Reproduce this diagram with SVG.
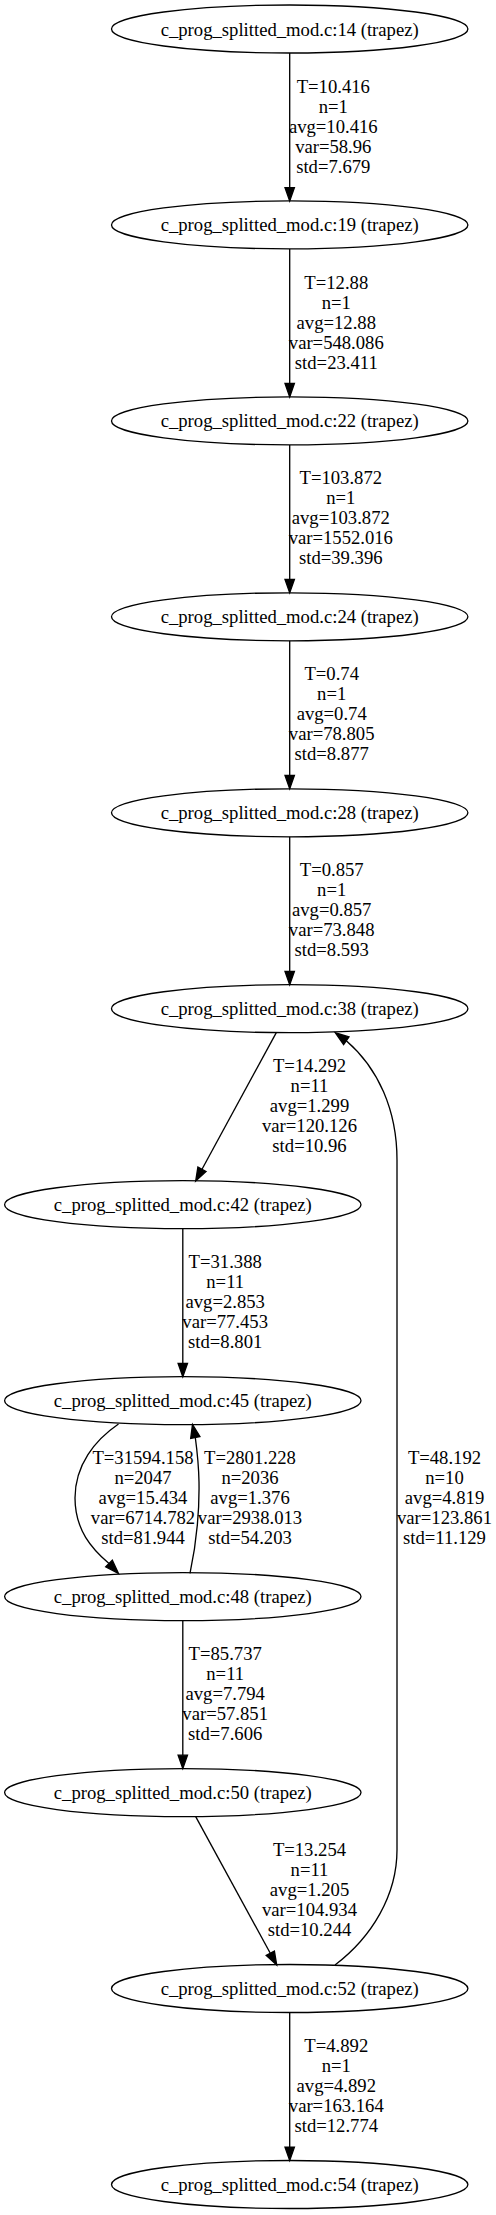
<svg xmlns="http://www.w3.org/2000/svg" width="496" height="2215" viewBox="0 0 496 2215">
<style>
.n ellipse{fill:none;stroke:#000;stroke-width:1.33}
.n text{font-family:"Liberation Serif","Times New Roman",serif;font-size:18.67px;text-anchor:middle;fill:#000}
#edges path{fill:none;stroke:#000;stroke-width:1.33}
#edges polygon{fill:#000;stroke:#000;stroke-width:1.33}
#edges text{font-family:"Liberation Serif","Times New Roman",serif;font-size:18.67px;text-anchor:middle;fill:#000}
</style>
<rect width="496" height="2215" fill="#fff"/>
<g id="edges">
  <!-- 14 -> 19 -->
  <g id="e1">
    <path d="M289.7,53 L289.7,187.6"/>
    <polygon points="285,187.6 294.4,187.6 289.7,201"/>
    <text x="333.3" y="92.5">T=10.416</text><text x="333.3" y="112.5">n=1</text><text x="333.3" y="132.5">avg=10.416</text><text x="333.3" y="152.5">var=58.96</text><text x="333.3" y="172.5">std=7.679</text>
  </g>
  <!-- 19 -> 22 -->
  <g id="e2">
    <path d="M289.7,249 L289.7,383.5"/>
    <polygon points="285,383.5 294.4,383.5 289.7,396.9"/>
    <text x="336.3" y="288.5">T=12.88</text><text x="336.3" y="308.5">n=1</text><text x="336.3" y="328.5">avg=12.88</text><text x="336.3" y="348.5">var=548.086</text><text x="336.3" y="368.5">std=23.411</text>
  </g>
  <!-- 22 -> 24 -->
  <g id="e3">
    <path d="M289.7,444.9 L289.7,579.5"/>
    <polygon points="285,579.5 294.4,579.5 289.7,592.8"/>
    <text x="340.8" y="484.4">T=103.872</text><text x="340.8" y="504.4">n=1</text><text x="340.8" y="524.4">avg=103.872</text><text x="340.8" y="544.4">var=1552.016</text><text x="340.8" y="564.4">std=39.396</text>
  </g>
  <!-- 24 -> 28 -->
  <g id="e4">
    <path d="M289.7,640.8 L289.7,775.4"/>
    <polygon points="285,775.4 294.4,775.4 289.7,788.8"/>
    <text x="331.7" y="680.3">T=0.74</text><text x="331.7" y="700.3">n=1</text><text x="331.7" y="720.3">avg=0.74</text><text x="331.7" y="740.3">var=78.805</text><text x="331.7" y="760.3">std=8.877</text>
  </g>
  <!-- 28 -> 38 -->
  <g id="e5">
    <path d="M289.7,836.8 L289.7,971.4"/>
    <polygon points="285,971.4 294.4,971.4 289.7,984.7"/>
    <text x="331.7" y="876.3">T=0.857</text><text x="331.7" y="896.3">n=1</text><text x="331.7" y="916.3">avg=0.857</text><text x="331.7" y="936.3">var=73.848</text><text x="331.7" y="956.3">std=8.593</text>
  </g>
  <!-- 38 -> 42 -->
  <g id="e6">
    <path d="M276.3,1032.6 L202,1169.3"/>
    <polygon points="206.1,1171.5 197.9,1167.1 195.7,1181"/>
    <text x="309.5" y="1072.2">T=14.292</text><text x="309.5" y="1092.2">n=11</text><text x="309.5" y="1112.2">avg=1.299</text><text x="309.5" y="1132.2">var=120.126</text><text x="309.5" y="1152.2">std=10.96</text>
  </g>
  <!-- 42 -> 45 -->
  <g id="e7">
    <path d="M182.8,1228.7 L182.8,1363.3"/>
    <polygon points="178.1,1363.3 187.5,1363.3 182.8,1376.7"/>
    <text x="225.2" y="1268.2">T=31.388</text><text x="225.2" y="1288.2">n=11</text><text x="225.2" y="1308.2">avg=2.853</text><text x="225.2" y="1328.2">var=77.453</text><text x="225.2" y="1348.2">std=8.801</text>
  </g>
  <!-- 45 -> 48 -->
  <g id="e8">
    <path d="M118.5,1424 C95,1440 75,1465 75,1498 C75,1530 92,1549 109,1563.5"/>
    <polygon points="112.3,1560.2 105.7,1566.8 118.5,1573.5"/>
    <text x="143" y="1464.2">T=31594.158</text><text x="143" y="1484.2">n=2047</text><text x="143" y="1504.2">avg=15.434</text><text x="143" y="1524.2">var=6714.782</text><text x="143" y="1544.2">std=81.944</text>
  </g>
  <!-- 48 -> 45 -->
  <g id="e9">
    <path d="M190,1573.3 C196,1545 199.5,1512 199,1482 C198.6,1462 197,1450 195.3,1437.5"/>
    <polygon points="199.9,1436.5 190.7,1438.5 192.5,1424.5"/>
    <text x="250" y="1464.2">T=2801.228</text><text x="250" y="1484.2">n=2036</text><text x="250" y="1504.2">avg=1.376</text><text x="250" y="1524.2">var=2938.013</text><text x="250" y="1544.2">std=54.203</text>
  </g>
  <!-- 48 -> 50 -->
  <g id="e11">
    <path d="M182.8,1620.6 L182.8,1755.2"/>
    <polygon points="178.1,1755.2 187.5,1755.2 182.8,1768.6"/>
    <text x="225.2" y="1660.1">T=85.737</text><text x="225.2" y="1680.1">n=11</text><text x="225.2" y="1700.1">avg=7.794</text><text x="225.2" y="1720.1">var=57.851</text><text x="225.2" y="1740.1">std=7.606</text>
  </g>
  <!-- 50 -> 52 -->
  <g id="e12">
    <path d="M195.7,1816.6 L270.3,1953.3"/>
    <polygon points="274.4,1951.1 266.2,1955.5 276.7,1965"/>
    <text x="309.5" y="1856.1">T=13.254</text><text x="309.5" y="1876.1">n=11</text><text x="309.5" y="1896.1">avg=1.205</text><text x="309.5" y="1916.1">var=104.934</text><text x="309.5" y="1936.1">std=10.244</text>
  </g>
  <!-- 52 -> 38 -->
  <g id="e10">
    <path d="M335,1965 C372,1937 397,1895 397,1850 L397,1160 C397,1110 378,1068 346.3,1040.7"/>
    <polygon points="349,1036.9 343.6,1044.5 335.3,1032.8"/>
    <text x="444.5" y="1464.2">T=48.192</text><text x="444.5" y="1484.2">n=10</text><text x="444.5" y="1504.2">avg=4.819</text><text x="444.5" y="1524.2">var=123.861</text><text x="444.5" y="1544.2">std=11.129</text>
  </g>
  <!-- 52 -> 54 -->
  <g id="e13">
    <path d="M289.7,2012.5 L289.7,2147.1"/>
    <polygon points="285,2147.1 294.4,2147.1 289.7,2160.5"/>
    <text x="336.3" y="2052">T=4.892</text><text x="336.3" y="2072">n=1</text><text x="336.3" y="2092">avg=4.892</text><text x="336.3" y="2112">var=163.164</text><text x="336.3" y="2132">std=12.774</text>
  </g>
</g>
<g id="n14" class="n"><ellipse cx="289.7" cy="29" rx="178.2" ry="24"/><text x="289.7" y="35.5">c_prog_splitted_mod.c:14 (trapez)</text></g>
<g id="n19" class="n"><ellipse cx="289.7" cy="224.9" rx="178.2" ry="24"/><text x="289.7" y="231.4">c_prog_splitted_mod.c:19 (trapez)</text></g>
<g id="n22" class="n"><ellipse cx="289.7" cy="420.9" rx="178.2" ry="24"/><text x="289.7" y="427.4">c_prog_splitted_mod.c:22 (trapez)</text></g>
<g id="n24" class="n"><ellipse cx="289.7" cy="616.8" rx="178.2" ry="24"/><text x="289.7" y="623.3">c_prog_splitted_mod.c:24 (trapez)</text></g>
<g id="n28" class="n"><ellipse cx="289.7" cy="812.8" rx="178.2" ry="24"/><text x="289.7" y="819.3">c_prog_splitted_mod.c:28 (trapez)</text></g>
<g id="n38" class="n"><ellipse cx="289.7" cy="1008.7" rx="178.2" ry="24"/><text x="289.7" y="1015.2">c_prog_splitted_mod.c:38 (trapez)</text></g>
<g id="n42" class="n"><ellipse cx="182.8" cy="1204.7" rx="178.2" ry="24"/><text x="182.8" y="1211.2">c_prog_splitted_mod.c:42 (trapez)</text></g>
<g id="n45" class="n"><ellipse cx="182.8" cy="1400.7" rx="178.2" ry="24"/><text x="182.8" y="1407.2">c_prog_splitted_mod.c:45 (trapez)</text></g>
<g id="n48" class="n"><ellipse cx="182.8" cy="1596.6" rx="178.2" ry="24"/><text x="182.8" y="1603.1">c_prog_splitted_mod.c:48 (trapez)</text></g>
<g id="n50" class="n"><ellipse cx="182.8" cy="1792.6" rx="178.2" ry="24"/><text x="182.8" y="1799.1">c_prog_splitted_mod.c:50 (trapez)</text></g>
<g id="n52" class="n"><ellipse cx="289.7" cy="1988.5" rx="178.2" ry="24"/><text x="289.7" y="1995">c_prog_splitted_mod.c:52 (trapez)</text></g>
<g id="n54" class="n"><ellipse cx="289.7" cy="2184.5" rx="178.2" ry="24"/><text x="289.7" y="2191">c_prog_splitted_mod.c:54 (trapez)</text></g>
</svg>
